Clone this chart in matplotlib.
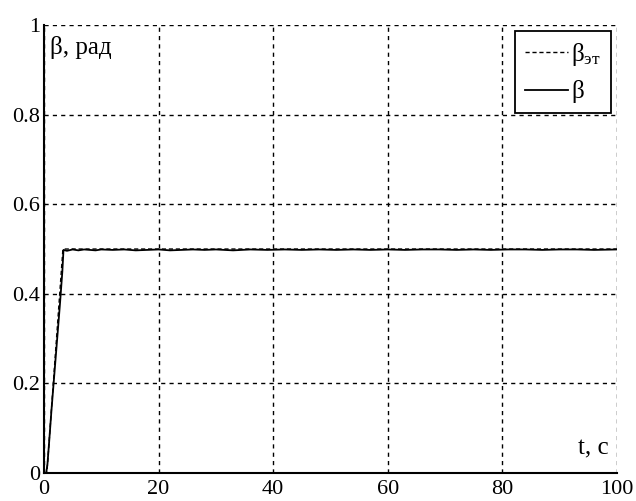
import matplotlib
matplotlib.use("Agg")
import matplotlib.pyplot as plt

plt.rcParams["font.family"] = ["Liberation Serif", "DejaVu Serif"]
plt.rcParams["mathtext.fontset"] = "custom"
plt.rcParams["mathtext.rm"] = "Liberation Serif"
plt.rcParams["mathtext.it"] = "Liberation Serif"

# reference (ramp then constant)
t_ref = [0, 0.5, 3.3, 100]
beta_ref = [0, 0, 0.5, 0.5]

# measured angle
t_beta = [0, 0.4, 0.6, 0.9, 1.3, 1.8, 2.3, 2.8, 3.2, 3.4, 4, 5, 6, 7, 8, 9, 10,
          12, 14, 16, 18, 20, 22, 24, 26, 28, 30, 33, 36, 39, 42, 45, 48, 51,
          54, 57, 60, 63, 66, 69, 72, 75, 78, 81, 84, 87, 90, 93, 96, 100]
beta = [0, 0.001, 0.02, 0.07, 0.14, 0.22, 0.30, 0.38, 0.45, 0.498, 0.496, 0.499,
        0.497, 0.499, 0.498, 0.497, 0.499, 0.498, 0.499, 0.497, 0.498, 0.499,
        0.497, 0.498, 0.499, 0.498, 0.499, 0.497, 0.499, 0.498, 0.499, 0.498,
        0.499, 0.498, 0.499, 0.498, 0.499, 0.498, 0.499, 0.499, 0.498, 0.499,
        0.498, 0.499, 0.499, 0.498, 0.499, 0.499, 0.498, 0.499]

xticks = [0, 20, 40, 60, 80, 100]
yticks = [0, 0.2, 0.4, 0.6, 0.8, 1]
ytick_labels = ["0", "0.2", "0.4", "0.6", "0.8", "1"]

fig = plt.figure(figsize=(6.36, 5.01), dpi=100)
ax = fig.add_axes([0.0692, 0.0559, 0.9008, 0.8941])

ax.plot(t_ref, beta_ref, color="black", lw=1, linestyle=(0, (3, 2)), label=r"$\mathrm{\beta}_{\mathrm{эт}}$")
ax.plot(t_beta, beta, color="black", lw=1.3, label="β")

ax.set_xlim(0, 100)
ax.set_ylim(0, 1)
ax.set_xticks(xticks)
ax.set_xticklabels([str(x) for x in xticks])
ax.set_yticks(yticks)
ax.set_yticklabels(ytick_labels)
ax.tick_params(axis="x", length=0, labelsize=16, pad=5)
ax.tick_params(axis="y", length=0, labelsize=16, pad=3)
ax.grid(True, color="black", linestyle=(0, (3, 3)), lw=1)
for s in ["top", "right"]:
    ax.spines[s].set_visible(False)
for s in ["left", "bottom"]:
    ax.spines[s].set_linewidth(1.5)

ax.text(0.011, 0.975, "β, рад", transform=ax.transAxes, fontsize=18, va="top", ha="left")
ax.text(0.986, 0.03, "t, c", transform=ax.transAxes, fontsize=18, va="bottom", ha="right")

leg = ax.legend(loc="upper right", bbox_to_anchor=(0.99, 0.987), borderaxespad=0,
                fontsize=18, fancybox=False, framealpha=1, edgecolor="black",
                handlelength=1.7, handletextpad=0.15, borderpad=0.4, labelspacing=0.5)
leg.get_frame().set_linewidth(1.3)

plt.savefig("out.png", dpi=100)
